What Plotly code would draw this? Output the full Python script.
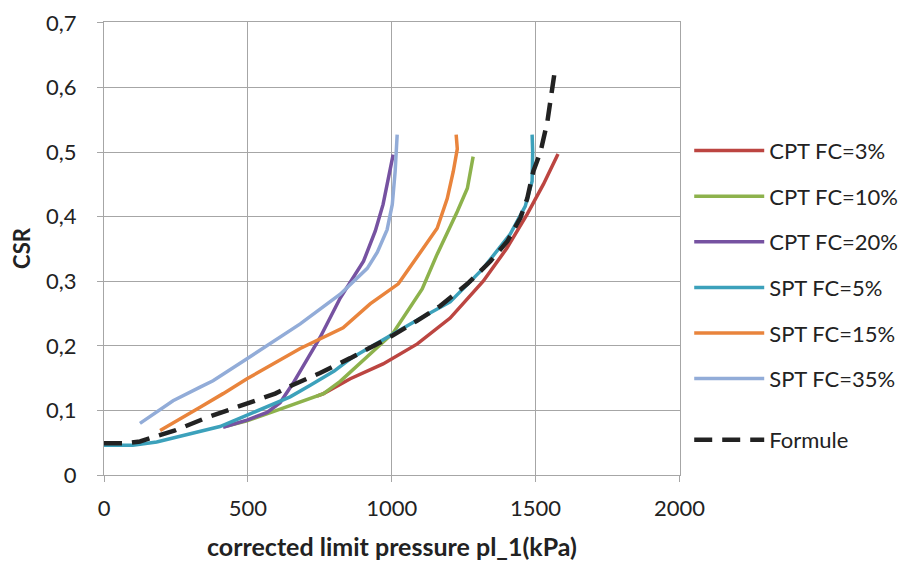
import plotly.graph_objects as go

# ---- data ----
cpt3_x = [740, 763, 856, 970, 1089, 1203, 1318, 1400, 1471, 1527, 1578]
cpt3_y = [0.122, 0.126, 0.149, 0.172, 0.203, 0.243, 0.300, 0.351, 0.404, 0.450, 0.497]

cpt10_x = [420, 497, 588, 682, 763, 821, 901, 1005, 1106, 1158, 1228, 1263, 1283]
cpt10_y = [0.075, 0.084, 0.098, 0.113, 0.126, 0.145, 0.177, 0.220, 0.288, 0.342, 0.408, 0.444, 0.493]

cpt20_x = [414, 497, 567, 612, 657, 751, 821, 902, 943, 970, 1005]
cpt20_y = [0.074, 0.085, 0.097, 0.112, 0.142, 0.213, 0.274, 0.331, 0.378, 0.419, 0.496]

spt5_x = [0, 100, 183, 299, 403, 473, 554, 647, 717, 800, 856, 970, 1089, 1203, 1318, 1412, 1464, 1488, 1490, 1488]
spt5_y = [0.046, 0.046, 0.051, 0.063, 0.075, 0.088, 0.103, 0.121, 0.139, 0.161, 0.180, 0.210, 0.240, 0.268, 0.320, 0.373, 0.416, 0.455, 0.500, 0.527]

spt15_x = [195, 299, 334, 414, 497, 682, 831, 925, 1023, 1158, 1193, 1214, 1228, 1224]
spt15_y = [0.069, 0.095, 0.105, 0.126, 0.149, 0.196, 0.228, 0.265, 0.296, 0.382, 0.428, 0.470, 0.505, 0.527]

spt35_x = [125, 240, 334, 379, 497, 682, 821, 870, 915, 950, 984, 1002, 1012, 1019]
spt35_y = [0.080, 0.115, 0.136, 0.146, 0.180, 0.234, 0.280, 0.300, 0.320, 0.345, 0.380, 0.419, 0.470, 0.527]

formule_x = [0, 70, 125, 247, 358, 480, 595, 654, 751, 856, 984, 1089, 1169, 1263, 1343, 1402, 1447, 1471, 1492, 1517, 1541, 1565]
formule_y = [0.049, 0.049, 0.052, 0.069, 0.089, 0.108, 0.126, 0.139, 0.158, 0.181, 0.211, 0.239, 0.262, 0.296, 0.331, 0.362, 0.398, 0.428, 0.470, 0.500, 0.547, 0.620]

series_names = ["CPT FC=3%", "CPT FC=10%", "CPT FC=20%", "SPT FC=5%", "SPT FC=15%", "SPT FC=35%", "Formule"]

x_ticks = [0, 500, 1000, 1500, 2000]
x_tick_text = ["0", "500", "1000", "1500", "2000"]
y_ticks = [0, 0.1, 0.2, 0.3, 0.4, 0.5, 0.6, 0.7]
y_tick_text = ["0", "0,1", "0,2", "0,3", "0,4", "0,5", "0,6", "0,7"]

x_title = "corrected limit pressure pl_1(kPa)"
y_title = "CSR"

colors = ["#BC4541", "#8DB24C", "#7652A1", "#3CA1BB", "#E9843C", "#92ACD8", "#222222"]
FONT = "Lato"

fig = go.Figure()
data = [(cpt3_x, cpt3_y), (cpt10_x, cpt10_y), (cpt20_x, cpt20_y),
        (spt5_x, spt5_y), (spt15_x, spt15_y), (spt35_x, spt35_y),
        (formule_x, formule_y)]
for i, ((xs, ys), name) in enumerate(zip(data, series_names)):
    is_f = name == "Formule"
    fig.add_trace(go.Scatter(
        x=xs, y=ys, mode="lines", name=name, legendgroup=name,
        legend="legend2" if is_f else "legend",
        line=dict(color=colors[i], width=4.5 if is_f else 3.5,
                  dash="18px,10px" if is_f else "solid"),
    ))

axis_common = dict(
    showline=True, mirror=True, linecolor="#A6A6A6", linewidth=1,
    showgrid=True, gridcolor="#A6A6A6", gridwidth=1,
    ticks="outside", ticklen=6, tickcolor="#A6A6A6",
    zeroline=False, automargin=False, ticklabeloverflow="allow",
    tickfont=dict(family=FONT, size=22, color="#222222"),
)

legend_common = dict(
    xanchor="left", yanchor="top",
    font=dict(family=FONT, size=22, color="#222222"),
    traceorder="grouped", tracegroupgap=14, itemwidth=70,
    bgcolor="rgba(0,0,0,0)",
)

# the page body adds an 8px offset, compensated in the margins
fig.update_layout(
    width=909, height=565,
    margin=dict(l=96, r=237, t=14, b=98),
    plot_bgcolor="white", paper_bgcolor="white",
    font=dict(family=FONT, color="#222222"),
    xaxis=dict(range=[0, 2002], tickvals=x_ticks, ticktext=x_tick_text,
               title=dict(text="<b>" + x_title + "</b>", font=dict(family=FONT, size=25), standoff=18),
               ticklabelstandoff=8, **axis_common),
    yaxis=dict(range=[0, 0.7015], tickvals=y_ticks, ticktext=y_tick_text,
               title=dict(text="<b>" + y_title + "</b>", font=dict(family=FONT, size=22), standoff=10),
               ticklabelstandoff=16, **axis_common),
    legend=dict(x=1.016, y=0.762, **legend_common),
    legend2=dict(x=1.016, y=0.1236, **legend_common),
    showlegend=True,
)

fig.write_html("out.html")
